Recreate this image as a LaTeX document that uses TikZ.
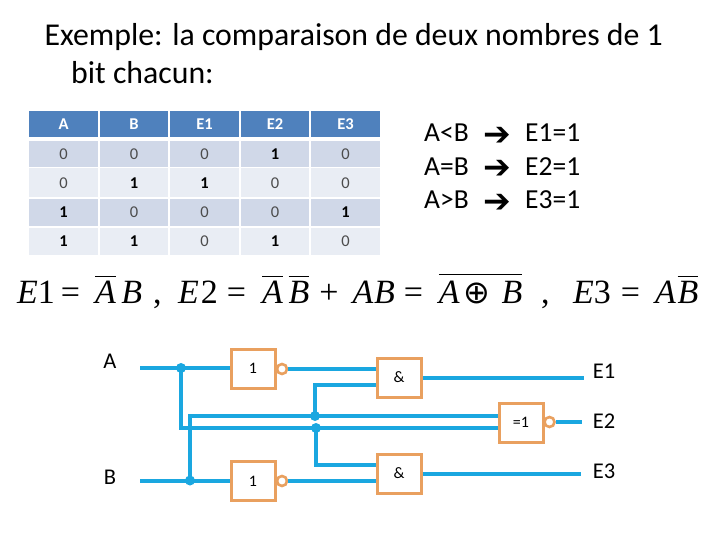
\documentclass[tikz,border=0pt]{standalone}
\usepackage{fontspec}
\setmainfont{Carlito}
\newfontfamily\eqfont{Liberation Serif}
\newfontfamily\djfont{DejaVu Sans}
\definecolor{headblue}{HTML}{4F81BD}
\definecolor{banddark}{HTML}{D0D8E8}
\definecolor{bandlight}{HTML}{E9EDF4}
\definecolor{wireblue}{HTML}{1AA7E0}
\definecolor{gateorange}{HTML}{E9A05F}
\newcommand{\sz}[1]{\fontsize{#1}{#1}\selectfont}
\newcommand{\one}{\textcolor{black}{\textbf{1}}}
\newcommand{\vr}[1]{\hbox{\eqfont\itshape #1}}
\newcommand{\nv}[1]{$\overline{\hbox{\rule{0pt}{25.5pt}\eqfont\itshape #1}}$}
\newcommand{\sk}[1]{\hspace*{#1pt}}
\tikzset{
	cell/.style={minimum width=68.5pt,inner sep=0pt,text=black!70,font=\sz{16.5}},
	headcell/.style={cell,fill=headblue,minimum height=26pt,text=white,font=\sz{16.5}\bfseries},
	gate/.style={draw=gateorange,line width=3pt,fill=white,minimum width=44pt,minimum height=39pt,inner sep=0pt,font=\sz{16}},
	bubble/.style={circle,draw=gateorange,line width=2.6pt,fill=white,minimum size=10pt,inner sep=0pt},
	wire/.style={draw=wireblue,line width=3.4pt},
	junction/.style={circle,fill=wireblue,minimum size=10pt,inner sep=0pt},
	pin/.style={font=\sz{22.5},text=black},
	eqn/.style={anchor=base west,inner sep=0pt,font=\eqfont\sz{34}},
	txt/.style={anchor=base west,inner sep=0pt,font=\sz{27.5}}
}
\begin{document}
\begin{tikzpicture}[x=1pt,y=-1pt,line join=miter]
	\useasboundingbox (0,0) rectangle (720,540);
	% title
	\node[txt,font=\sz{31.8}] (title1) at (44.5,46) {Exemple: la comparaison de deux nombres de 1};
	\node[txt,font=\sz{31.8}] (title2) at (71,84) {bit chacun:};
	% table
	\foreach \xx/\t [count=\cl] in {63.5/A,134/B,204.5/E1,275/E2,345.5/E3}
		\node[headcell] (head\cl) at (\xx,124) {\t};
	\foreach \yy/\hh/\col/\va/\vb/\vc/\vd/\ve [count=\rw] in {
		154/26/banddark/0/0/0/\one/0,
		183/29/bandlight/0/\one/\one/0/0,
		212.5/27/banddark/\one/0/0/0/\one,
		241.5/27/bandlight/\one/\one/0/\one/0}
		\foreach \xx/\t [count=\cl] in {63.5/\va,134/\vb,204.5/\vc,275/\vd,345.5/\ve}
			\node[cell,fill=\col,minimum height=\hh pt] (cell\rw\cl) at (\xx,\yy) {\t};
	% comparison
	\node[txt] (cmp1) at (424,142) {A<B};
	\node[txt] (cmp2) at (424,175.5) {A=B};
	\node[txt] (cmp3) at (424,209) {A>B};
	\foreach \i in {1,2,3} {
		\node[txt,font=\djfont\bfseries\sz{33}] (arr\i) at (483.5,{112+33.5*\i}) {➔};
		\node[txt] (res\i) at (525,{108.5+33.5*\i}) {E\i=1};
	}
	% equations
	\node[eqn] (eq1) at (17,303) {\textit{E}1\sk{6}=\sk{15}\nv{A}\sk{5.5}\vr{B}};
	\node[eqn] (comma1) at (153,303) {,};
	\node[eqn] (eq2) at (178,303) {\textit{E}\sk{2}2\sk{9}=\sk{16}\nv{A}\sk{5.7}\nv{B}\sk{10}+\sk{14}\vr{A}\sk{0.7}\vr{B}\sk{9}=\sk{16}$\overline{\hbox{\rule{0pt}{27.5pt}\vr{A}\sk{4}{\djfont\sz{32}⊕}\sk{11}\vr{B}}}$};
	\node[eqn] (comma2) at (541,303) {,};
	\node[eqn] (eq3) at (573,303) {\textit{E}3\sk{10}=\sk{15}\vr{A}\sk{1.7}\nv{B}};
	% gates
	\node[gate] (notA) at (253,368.5) {1};
	\node[gate] (notB) at (253,481) {1};
	\node[gate] (andA) at (399,377.5) {\&};
	\node[gate] (andB) at (399,473.5) {\&};
	\node[gate] (xnor) at (521,422.5) {=1};
	\node[bubble] (bubA) at (282,369) {};
	\node[bubble] (bubB) at (282,481) {};
	\node[bubble] (bubX) at (549.5,422) {};
	% pins
	\node[pin] (pinA) at (110,361) {A};
	\node[pin] (pinB) at (110,477) {B};
	\node[pin] (outA) at (604,371) {E1};
	\node[pin] (outX) at (604,421) {E2};
	\node[pin] (outB) at (604,471) {E3};
	% wires
	\coordinate (inA) at (140,368);
	\coordinate (inB) at (140,481);
	\coordinate (endA) at (584,378);
	\coordinate (endX) at (582,422);
	\coordinate (endB) at (581,474);
	\node[junction] (jA) at (181,368) {};
	\node[junction] (jB) at (190,480.5) {};
	\node[junction] (jU) at (315,416) {};
	\node[junction] (jL) at (316,428) {};
	\draw[wire] (inA) -- (notA.west |- inA);
	\draw[wire] (inB) -- (notB.west |- inB);
	\draw[wire] (jA.center) |- (jL.center) -- (xnor.west |- jL);
	\draw[wire] (jB.center) |- (jU.center) -- (xnor.west |- jU);
	\draw[wire] (jU.center) |- (andA.west |- 0,385);
	\draw[wire] (jL.center) |- (andB.west |- 0,465);
	\draw[wire] (bubA.east) -- (andA.west |- bubA);
	\draw[wire] (bubB.east) -- (andB.west |- bubB);
	\draw[wire] (andA.east |- endA) -- (endA);
	\draw[wire] (andB.east |- endB) -- (endB);
	\draw[wire] (bubX.east) -- (endX);
\end{tikzpicture}
\end{document}
